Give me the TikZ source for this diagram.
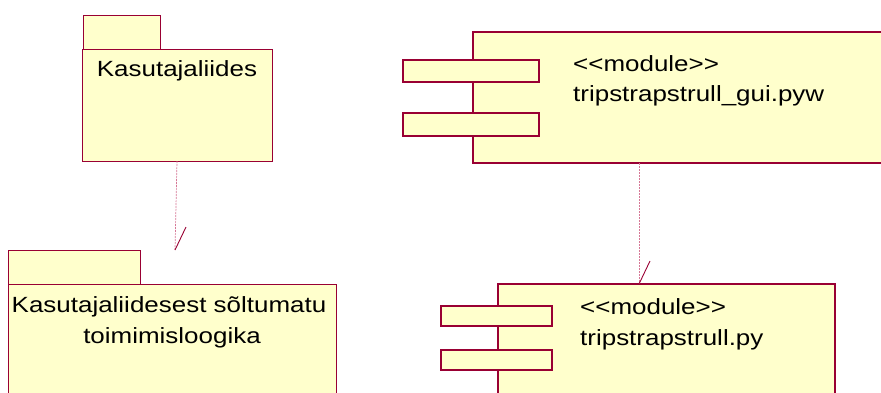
\documentclass[tikz,border=0pt]{standalone}
\usepackage{fontspec}
\setmainfont{Liberation Sans}[FakeStretch=1.18]
\definecolor{umlborder}{RGB}{153,0,51}
\definecolor{umlfill}{RGB}{255,255,204}
\definecolor{deppink}{RGB}{214,120,150}
\begin{document}
\begin{tikzpicture}[x=1pt,y=-1pt,
  box/.style={anchor=north west, inner sep=0pt, outer sep=0pt, fill=umlfill},
  pkg/.style={box, draw=umlborder, line width=1pt},
  pkgline/.style={draw=umlborder, line width=1pt},
  comp/.style={box, draw=umlborder, line width=2.5pt},
  lbl/.style={font=\fontsize{22}{26}\selectfont, inner sep=0pt, text=black},
  dep/.style={draw=deppink, line width=0.7pt, dash pattern=on 2pt off 1pt},
  headslash/.style={draw=umlborder, line width=0.9pt}]
\clip (0,0) rectangle (881,392);

% package 1
\node[pkg, minimum width=190pt, minimum height=112pt] (p1) at (82,49) {};
\node[box, minimum width=77pt, minimum height=34pt] (p1tab) at (83,15) {};
\draw[pkgline] (p1tab.south west) |- (p1tab.north east) -- (p1tab.south east);
\node[lbl, anchor=base] (t1) at (177,76) {Kasutajaliides};

% package 2
\node[pkg, minimum width=328pt, minimum height=130pt] (p2) at (8,284) {};
\node[box, minimum width=132pt, minimum height=34pt] (p2tab) at (8,250) {};
\draw[pkgline] (p2tab.south west) |- (p2tab.north east) -- (p2tab.south east);
\node[lbl, anchor=base] (t2a) at (169,312) {Kasutajaliidesest sõltumatu};
\node[lbl, anchor=base] (t2b) at (172,343) {toimimisloogika};

% component 1
\node[comp, minimum width=450pt, minimum height=131pt] (c1) at (473,32) {};
\node[comp, minimum width=136pt, minimum height=22pt] (c1r1) at (403,60) {};
\node[comp, minimum width=136pt, minimum height=23pt] (c1r2) at (403,113) {};
\node[lbl, anchor=base west] (t3a) at (573,71) {<\kern0pt<module>\kern0pt>};
\node[lbl, anchor=base west] (t3b) at (573,101) {tripstrapstrull\_gui.pyw};

% component 2
\node[comp, minimum width=337pt, minimum height=130pt] (c2) at (498,284) {};
\node[comp, minimum width=111pt, minimum height=20pt] (c2r1) at (441,306) {};
\node[comp, minimum width=111pt, minimum height=20pt] (c2r2) at (441,350) {};
\node[lbl, anchor=base west] (t4a) at (580,314) {<\kern0pt<module>\kern0pt>};
\node[lbl, anchor=base west] (t4b) at (580,345) {tripstrapstrull.py};

% dependencies
\coordinate (a1) at (175,250);
\draw[dep] (p1.south) -- (a1);
\draw[headslash] (a1) -- ++(11,-23);
\coordinate (a2) at (639,284);
\draw[dep] (c1.south -| a2) -- (a2);
\draw[headslash] (a2) -- ++(11,-23);
\end{tikzpicture}
\end{document}
